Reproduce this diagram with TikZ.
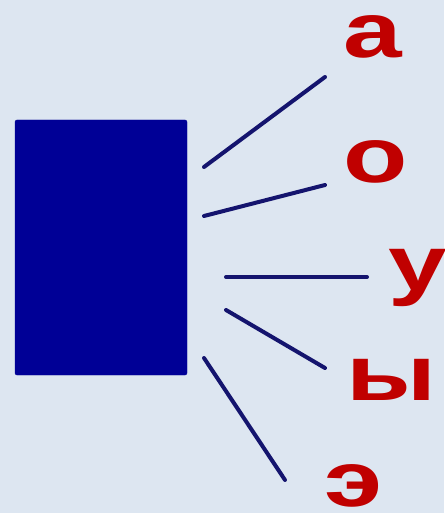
\documentclass[tikz,border=0pt]{standalone}
\usepackage{fontspec}
\usepackage{graphicx}
\setmainfont{Liberation Sans}
\newcommand{\widevowel}[1]{\scalebox{1.35}[1]{#1}}
\begin{document}
\begin{tikzpicture}[x=1pt, y=-1pt]
  % Colours and styles
  \definecolor{bgcol}{HTML}{DDE6F1}
  \definecolor{boxcol}{HTML}{000096}
  \definecolor{raycol}{HTML}{14146E}
  \definecolor{vowelcol}{HTML}{C00000}
  \tikzset{
    ray/.style={line width=4pt, raycol, line cap=round},
    vowel/.style={anchor=base, inner sep=0pt, text=vowelcol,
      font=\fontsize{78}{78}\selectfont\bfseries}
  }

  % Background
  \fill[bgcol] (0,0) rectangle (444,513);
  \useasboundingbox (0,0) rectangle (444,513);

  % Box
  \node[fill=boxcol, draw=boxcol, rounded corners=2pt, minimum width=172pt,
    minimum height=255pt, inner sep=0pt] (box) at (101,247.5) {};

  % Vowels
  \node[vowel] (va) at (373,58) {\widevowel{а}};
  \node[vowel] (vo) at (376,182) {\widevowel{о}};
  \node[vowel] (vu) at (418,290) {\widevowel{у}};
  \node[vowel] (vy) at (391,400) {\widevowel{ы}};
  \node[vowel] (ve) at (354,506) {\widevowel{э}};

  % Ray ends
  \coordinate (s1) at (204,167); \coordinate (e1) at (325,77);
  \coordinate (s2) at (204,216); \coordinate (e2) at (325,185);
  \coordinate (s3) at (226,277); \coordinate (e3) at (367,277);
  \coordinate (s4) at (226,310); \coordinate (e4) at (325,368);
  \coordinate (s5) at (204,358); \coordinate (e5) at (285,480);

  % Rays
  \foreach \i in {1,...,5}
    \draw[ray] (s\i) -- (e\i);
\end{tikzpicture}
\end{document}
